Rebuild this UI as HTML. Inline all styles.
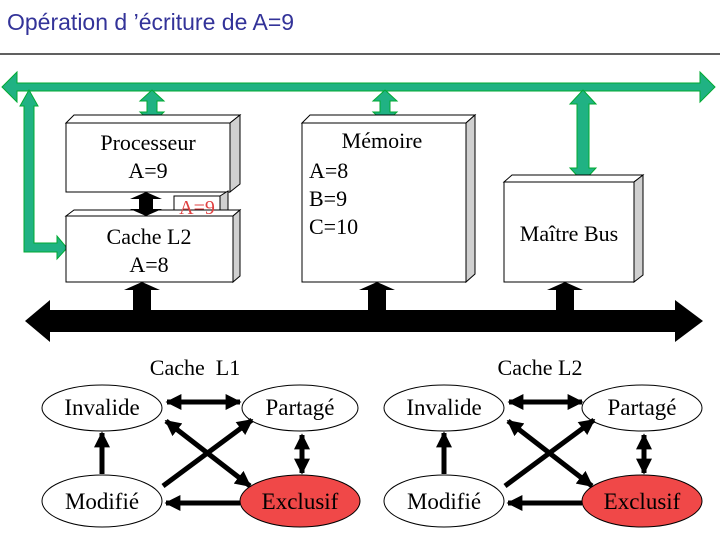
<!DOCTYPE html>
<html><head><meta charset="utf-8"><style>
html,body{margin:0;padding:0;background:#fff;width:720px;height:540px;overflow:hidden}
svg text{font-family:"Liberation Serif",serif}
</style></head><body>
<svg width="720" height="540" viewBox="0 0 720 540" xmlns="http://www.w3.org/2000/svg">
<defs>
<marker id="ah" viewBox="0 0 10 10" refX="9" refY="5" markerWidth="3.2" markerHeight="3.2" orient="auto-start-reverse"><path d="M0,0 L10,5 L0,10 z" fill="#000"/></marker>
</defs>
<text x="7" y="30" style="font-family:'Liberation Sans',sans-serif;font-size:23px" fill="#333399">Opération d ’écriture de A=9</text>
<line x1="0" y1="54" x2="720" y2="54" stroke="#000" stroke-width="1.3"/>

<path d="M2,87 L17,72 L17,83 L700,83 L700,72 L715,87 L700,102 L700,91 L17,91 L17,102 Z" fill="#20b283" stroke="#0a3" stroke-width="1"/>
<path d="M29,90 L38,106 L34,106 L34,243 L57,243 L57,236 L67,248 L57,259 L57,252 L24,252 L24,106 L20,106 Z" fill="#20b283" stroke="#0a3" stroke-width="1"/>
<g fill="#20b283" stroke="#0a3" stroke-width="1">
<path d="M152,90 L164,101 L157,101 L157,112 L164,112 L152,123 L140,112 L147,112 L147,101 L140,101 Z"/>
<path d="M385,90 L397,101 L390,101 L390,112 L397,112 L385,123 L373,112 L380,112 L380,101 L373,101 Z"/>
<path d="M583,90 L596,104 L589,104 L589,168 L596,168 L583,182 L570,168 L577,168 L577,104 L570,104 Z"/>
</g>

<g stroke="#000" stroke-width="1">
<path d="M66,123 L74,115 L240,115 L230,123 Z" fill="#fff"/>
<path d="M230,123 L240,115 L240,184 L230,192 Z" fill="#d0d0d0"/>
<rect x="66" y="123" width="164" height="69" fill="#fff"/>
<path d="M220,196 L228,191 L228,212 L220,216 Z" fill="#d0d0d0"/>
<rect x="174" y="196" width="46" height="20" fill="#fff"/>
<path d="M66,216 L74,210 L240,210 L233,216 Z" fill="#fff"/>
<path d="M233,216 L240,210 L240,276 L233,282 Z" fill="#d0d0d0"/>
<rect x="66" y="216" width="167" height="66" fill="#fff"/>
<path d="M302,123 L310,115 L475,115 L466,123 Z" fill="#fff"/>
<path d="M466,123 L475,115 L475,274 L466,282 Z" fill="#d0d0d0"/>
<rect x="302" y="123" width="164" height="159" fill="#fff"/>
<path d="M504,182 L512,175 L643,175 L634,182 Z" fill="#fff"/>
<path d="M634,182 L643,175 L643,275 L634,282 Z" fill="#d0d0d0"/>
<rect x="504" y="182" width="130" height="100" fill="#fff"/>
</g>
<path d="M146,192 L162,199 L153,199 L153,209 L162,209 L146,216 L130,209 L139,209 L139,199 L130,199 Z" fill="#000"/>
<text x="148" y="150" font-size="22" text-anchor="middle">Processeur</text>
<text x="148" y="178" font-size="22" text-anchor="middle">A=9</text>
<text x="197" y="214" font-size="20" text-anchor="middle" fill="#e04040">A=9</text>
<text x="149" y="244" font-size="22" text-anchor="middle">Cache L2</text>
<text x="149" y="272" font-size="22" text-anchor="middle">A=8</text>
<text x="382" y="148" font-size="22" text-anchor="middle">Mémoire</text>
<text x="309" y="178" font-size="22">A=8</text>
<text x="309" y="206" font-size="22">B=9</text>
<text x="309" y="234" font-size="22">C=10</text>
<text x="569" y="241" font-size="22" text-anchor="middle">Maître Bus</text>

<path d="M25,321 L50,300 L50,310 L675,310 L675,300 L703,321 L675,342 L675,332 L50,332 L50,342 Z" fill="#000"/>
<path d="M142,282 L160,290 L151,290 L151,310 L133,310 L133,290 L124,290 Z" fill="#000"/>
<path d="M377,282 L395,290 L386,290 L386,310 L368,310 L368,290 L359,290 Z" fill="#000"/>
<path d="M565,282 L583,290 L574,290 L574,310 L556,310 L556,290 L547,290 Z" fill="#000"/>

<text x="195" y="375" font-size="22" text-anchor="middle" xml:space="preserve">Cache  L1</text>
<text x="540" y="375" font-size="22" text-anchor="middle">Cache L2</text>
<g stroke="#000" stroke-width="1">
<ellipse cx="102" cy="408" rx="60" ry="23" fill="#fff"/>
<ellipse cx="300" cy="408" rx="58" ry="23" fill="#fff"/>
<ellipse cx="102" cy="501" rx="60" ry="26" fill="#fff"/>
<ellipse cx="300" cy="501" rx="60" ry="26" fill="#f04848"/>
<ellipse cx="444" cy="408" rx="60" ry="23" fill="#fff"/>
<ellipse cx="642" cy="408" rx="60" ry="23" fill="#fff"/>
<ellipse cx="444" cy="501" rx="60" ry="26" fill="#fff"/>
<ellipse cx="642" cy="501" rx="60" ry="26" fill="#f04848"/>
</g>
<g font-size="23" text-anchor="middle">
<text x="102" y="415">Invalide</text>
<text x="300" y="415">Partagé</text>
<text x="102" y="509">Modifié</text>
<text x="300" y="509">Exclusif</text>
<text x="444" y="415">Invalide</text>
<text x="642" y="415">Partagé</text>
<text x="444" y="509">Modifié</text>
<text x="642" y="509">Exclusif</text>
</g>
<g stroke="#000" stroke-width="5" marker-end="url(#ah)">
<line x1="167" y1="402" x2="240" y2="402" marker-start="url(#ah)"/>
<line x1="102" y1="474" x2="102" y2="433"/>
<line x1="163" y1="486" x2="252" y2="420"/>
<line x1="166" y1="421" x2="250" y2="486" marker-start="url(#ah)"/>
<line x1="302" y1="435" x2="302" y2="473" marker-start="url(#ah)"/>
<line x1="240" y1="503" x2="166" y2="503"/>
<line x1="509" y1="402" x2="582" y2="402" marker-start="url(#ah)"/>
<line x1="444" y1="474" x2="444" y2="433"/>
<line x1="505" y1="486" x2="594" y2="420"/>
<line x1="508" y1="421" x2="592" y2="486" marker-start="url(#ah)"/>
<line x1="644" y1="435" x2="644" y2="473" marker-start="url(#ah)"/>
<line x1="582" y1="503" x2="508" y2="503"/>
</g>
</svg>
</body></html>
